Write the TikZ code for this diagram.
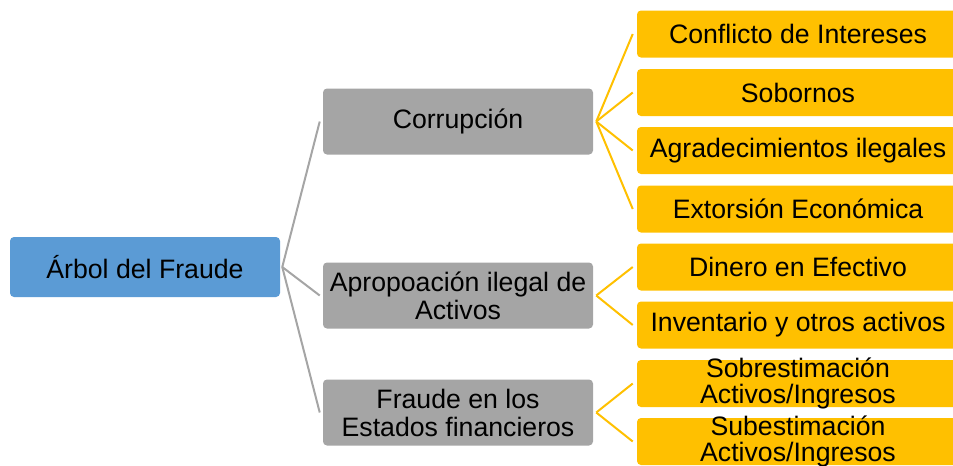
\documentclass[tikz,border=0pt]{standalone}
\usepackage{fontspec}
\setmainfont{Liberation Sans}
\definecolor{rootblue}{HTML}{5B9BD5}
\definecolor{midgray}{HTML}{A5A5A5}
\definecolor{leafyellow}{HTML}{FFC000}
\definecolor{linegray}{HTML}{A5A5A5}
\begin{document}
\begin{tikzpicture}[x=0.75pt,y=-0.75pt,
  box/.style={rounded corners=3pt, inner sep=0pt, align=center, font=\fontsize{20}{21}\selectfont},
  rootbox/.style={box, fill=rootblue, minimum width=202.5pt, minimum height=45pt},
  midbox/.style={box, fill=midgray, minimum width=202.5pt, minimum height=49.5pt},
  leafbox/.style={box, fill=leafyellow, minimum width=241.5pt, minimum height=35.25pt},
  leaftwo/.style={leafbox, label={[font=\fontsize{20}{20}\selectfont, align=center, inner sep=0pt]center:{#1}}},
  graylink/.style={draw=linegray, line width=1.5pt},
  yellowlink/.style={draw=leafyellow, line width=1.5pt}]
\useasboundingbox (0,0) rectangle (953,465);
\clip (0,0) rectangle (953,465);

\node[rootbox] (root) at (145,267) {Árbol del Fraude};

\node[midbox] (m1) at (458,121.5) {Corrupción};
\node[midbox] (m2) at (458,295.5) {Apropoación ilegal de\\Activos};
\node[midbox] (m3) at (458,412.5) {Fraude en los\\Estados financieros};

\node[leafbox] (l1) at (798,34) {Conflicto de Intereses};
\node[leafbox] (l2) at (798,92.5) {Sobornos};
\node[leafbox] (l3) at (798,150.5) {Agradecimientos ilegales};
\node[leafbox] (l4) at (798,209) {Extorsión Económica};
\node[leafbox] (l5) at (798,267) {Dinero en Efectivo};
\node[leafbox] (l6) at (798,325) {Inventario y otros activos};
\node[leaftwo={Sobrestimación\\Activos/Ingresos}] (l7) at (798,383.5) {};
\node[leaftwo={Subestimación\\Activos/Ingresos}] (l8) at (798,441.5) {};

\foreach \m in {m1,m2,m3}
  \draw[graylink] ([xshift=1.5pt]root.east) -- ([xshift=-2.25pt]\m.west);

\foreach \l in {l1,l2,l3,l4}
  \draw[yellowlink] ([xshift=2.25pt]m1.east) -- ([xshift=-3pt]\l.west);
\foreach \l in {l5,l6}
  \draw[yellowlink] ([xshift=2.25pt]m2.east) -- ([xshift=-3pt]\l.west);
\foreach \l in {l7,l8}
  \draw[yellowlink] ([xshift=2.25pt]m3.east) -- ([xshift=-3pt]\l.west);
\end{tikzpicture}
\end{document}
